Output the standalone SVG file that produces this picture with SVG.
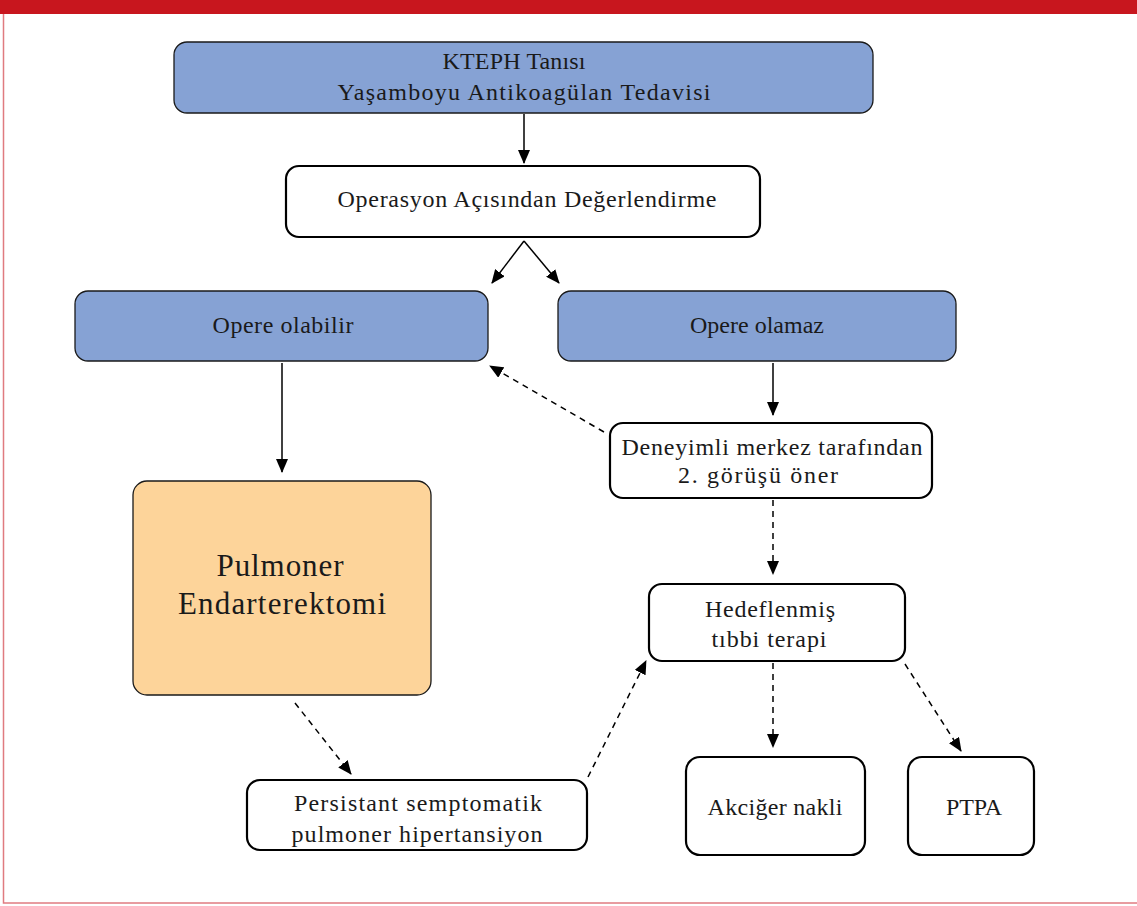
<svg xmlns="http://www.w3.org/2000/svg" width="1137" height="906" viewBox="0 0 1137 906">
<style>
text{font-family:"Liberation Serif","DejaVu Serif",serif;font-size:24px;fill:#1a1a1a;text-anchor:middle}
.big{font-size:31px}
.blue{fill:#86a2d4;stroke:#1a1a1a;stroke-width:1.3}
.white{fill:#fff;stroke:#000;stroke-width:2.2}
.orange{fill:#fdd49a;stroke:#1a1a1a;stroke-width:1.3}
.c{stroke:#000;stroke-width:1.5;fill:none}
.d{stroke:#000;stroke-width:1.5;fill:none;stroke-dasharray:6,5}
</style>
<defs>
<marker id="ah" markerWidth="14" markerHeight="12" refX="13" refY="6" orient="auto" markerUnits="userSpaceOnUse">
<path d="M0,0 L14,6 L0,12 Z" fill="#000"/>
</marker>
</defs>
<rect x="0" y="0" width="1137" height="906" fill="#fff"/>
<rect x="3.5" y="10" width="1140" height="893" fill="none" stroke="#e07b80" stroke-width="1.5"/>
<rect x="0" y="0" width="1137" height="14" fill="#c8161e"/>

<g id="connectors">
<line class="c" x1="524" y1="114" x2="524" y2="163" marker-end="url(#ah)"/>
<line class="c" x1="524" y1="241" x2="492" y2="283" marker-end="url(#ah)"/>
<line class="c" x1="524" y1="241" x2="559" y2="283" marker-end="url(#ah)"/>
<line class="c" x1="282" y1="363" x2="282" y2="472" marker-end="url(#ah)"/>
<line class="c" x1="773" y1="363" x2="773" y2="415" marker-end="url(#ah)"/>
<line class="d" x1="604" y1="432" x2="490" y2="366" marker-end="url(#ah)"/>
<line class="d" x1="773" y1="500" x2="773" y2="574" marker-end="url(#ah)"/>
<line class="d" x1="295" y1="703" x2="351" y2="774" marker-end="url(#ah)"/>
<line class="d" x1="588" y1="777" x2="646" y2="661" marker-end="url(#ah)"/>
<line class="d" x1="773" y1="663" x2="773" y2="747" marker-end="url(#ah)"/>
<line class="d" x1="905" y1="664" x2="961" y2="751" marker-end="url(#ah)"/>
</g>

<g id="n1"><rect class="blue" x="174" y="42" width="699" height="71" rx="13"/>
<text x="514" y="69" textLength="143" lengthAdjust="spacing">KTEPH Tanısı</text><text x="524" y="100" textLength="373" lengthAdjust="spacing">Yaşamboyu Antikoagülan Tedavisi</text></g>
<g id="n2"><rect class="white" x="286" y="166" width="474" height="71" rx="13"/>
<text x="527" y="207" textLength="379" lengthAdjust="spacing">Operasyon Açısından Değerlendirme</text></g>
<g id="n3"><rect class="blue" x="75" y="291" width="413" height="70" rx="13"/>
<text x="283" y="333" textLength="141" lengthAdjust="spacing">Opere olabilir</text></g>
<g id="n4"><rect class="blue" x="558" y="291" width="398" height="70" rx="13"/>
<text x="757" y="333">Opere olamaz</text></g>
<g id="n5"><rect class="white" x="610" y="423" width="322" height="75" rx="13"/>
<text x="772" y="455" textLength="301" lengthAdjust="spacing">Deneyimli merkez tarafından</text><text x="758" y="483" textLength="160" lengthAdjust="spacing">2. görüşü öner</text></g>
<g id="n6"><rect class="orange" x="133" y="481" width="298" height="214" rx="14"/>
<text class="big" x="280" y="576" textLength="127" lengthAdjust="spacing">Pulmoner</text><text class="big" x="282" y="614" textLength="208" lengthAdjust="spacing">Endarterektomi</text></g>
<g id="n7"><rect class="white" x="649" y="584" width="256" height="77" rx="13"/>
<text x="770" y="617" textLength="130" lengthAdjust="spacing">Hedeflenmiş</text><text x="769" y="647" textLength="115" lengthAdjust="spacing">tıbbi terapi</text></g>
<g id="n8"><rect class="white" x="247" y="780" width="340" height="70" rx="13"/>
<text x="418" y="811" textLength="248" lengthAdjust="spacing">Persistant semptomatik</text><text x="417" y="842" textLength="251" lengthAdjust="spacing">pulmoner hipertansiyon</text></g>
<g id="n9"><rect class="white" x="686" y="757" width="179" height="98" rx="14"/>
<text x="775" y="815" textLength="135" lengthAdjust="spacing">Akciğer nakli</text></g>
<g id="n10"><rect class="white" x="908" y="757" width="126" height="98" rx="14"/>
<text x="974" y="815" textLength="56" lengthAdjust="spacing">PTPA</text></g>
</svg>
